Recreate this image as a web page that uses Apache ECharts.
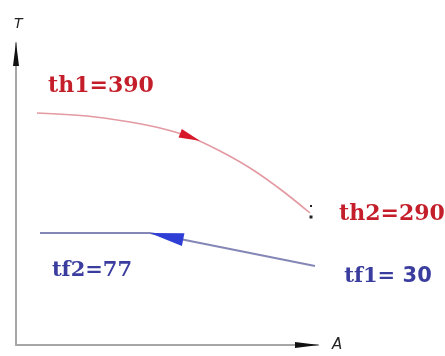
<!DOCTYPE html>
<html>
<head>
<meta charset="utf-8">
<script src="https://cdn.jsdelivr.net/npm/echarts@6/dist/echarts.min.js"></script>
<style>
  html, body { margin: 0; padding: 0; background: #fff; }
  #chart { width: 445px; height: 356px; }
</style>
</head>
<body>
<div id="chart"></div>
<script>
// Schematic temperature profile (T) over exchange area (A), arbitrary plot units
const hotA  = [21, 71, 114, 144, 174, 204, 234, 264, 294];
const hotT  = [232, 229, 223, 217, 208, 194, 177, 156, 132];
const coldA = [24, 134, 299];
const coldT = [112, 112, 79];

// Stream temperatures written at the ends of each curve
const hotNames  = ['th1', 'th2'];
const hotTemps  = [390, 290];
const coldNames = ['tf2', 'tf1'];
const coldTemps = [77, 30];

const axisMax = 302;

const RED = '#c41e2a';
const BLUE = '#3a3d9e';

const hotData = hotA.map((a, i) => [a, hotT[i]]);
const coldData = coldA.map((a, i) => [a, coldT[i]]);

// Direction arrows: one unit on each axis is one pixel, so angles in data space hold on screen
function angleDeg(p, q) {
  return Math.atan2(q[1] - p[1], q[0] - p[0]) * 180 / Math.PI;
}
const hotMid = 4;
const hotArrow = {
  value: hotData[hotMid],
  rot: angleDeg(hotData[hotMid - 1], hotData[hotMid + 1]) - 90
};
const cs = coldData[1], ce = coldData[2], tPos = 0.1;
const coldArrow = {
  value: [cs[0] + (ce[0] - cs[0]) * tPos, cs[1] + (ce[1] - cs[1]) * tPos],
  rot: angleDeg(ce, cs) - 90
};

const serifBold = { fontFamily: 'DejaVu Serif', fontWeight: 'bold', fontSize: 21 };

// End-of-curve labels, anchored on the first and last point of each stream
const endLabels = [
  { value: hotData[0], label: { formatter: hotNames[0] + '=' + hotTemps[0], offset: [64, -27], color: RED, ...serifBold, fontSize: 22 } },
  { value: hotData[hotData.length - 1], label: { formatter: hotNames[1] + '=' + hotTemps[1], offset: [82, 1], color: RED, ...serifBold, fontSize: 22 } },
  { value: coldData[0], label: { formatter: coldNames[0] + '=' + coldTemps[0], offset: [52, 38], color: BLUE, ...serifBold } },
  {
    value: coldData[coldData.length - 1],
    label: {
      offset: [73, 11],
      formatter: '{a|' + coldNames[1] + '=}{b| ' + coldTemps[1] + '}',
      rich: {
        a: { color: BLUE, ...serifBold },
        b: { color: BLUE, fontFamily: 'DejaVu Sans', fontWeight: 'bold', fontSize: 21 }
      }
    }
  }
];

const solid = { opacity: 1 };

const chart = echarts.init(document.getElementById('chart'), null, { renderer: 'canvas' });
chart.setOption({
  animation: false,
  backgroundColor: '#ffffff',
  grid: { left: 16, top: 43, right: 445 - 16 - axisMax, bottom: 356 - 43 - axisMax },
  xAxis: {
    type: 'value', min: 0, max: axisMax,
    name: 'A', nameLocation: 'end', nameGap: 14,
    nameTextStyle: { fontStyle: 'italic', fontSize: 15, color: '#222', fontFamily: 'DejaVu Sans', padding: [12, 0, 0, 0] },
    axisLine: { show: true, lineStyle: { color: '#a6a6a6', width: 2 } },
    axisTick: { show: false }, axisLabel: { show: false }, splitLine: { show: false }
  },
  yAxis: {
    type: 'value', min: 0, max: axisMax,
    name: 'T', nameLocation: 'end', nameGap: 12,
    nameTextStyle: { fontStyle: 'italic', fontSize: 14, color: '#222', fontFamily: 'DejaVu Sans', align: 'left', padding: [0, 0, 0, -2] },
    axisLine: { show: true, lineStyle: { color: '#a6a6a6', width: 2 } },
    axisTick: { show: false }, axisLabel: { show: false }, splitLine: { show: false }
  },
  series: [
    {
      name: 'hot',
      type: 'line',
      smooth: 0.35,
      showSymbol: false,
      lineStyle: { color: '#e39aa2', width: 1.6 },
      data: hotData,
      z: 3
    },
    {
      name: 'cold',
      type: 'line',
      showSymbol: false,
      lineStyle: { color: '#8486b6', width: 2 },
      data: coldData,
      z: 3
    },
    {
      name: 'labels',
      type: 'scatter',
      symbolSize: 0,
      clip: false,
      itemStyle: solid,
      label: { show: true, position: 'inside' },
      data: endLabels,
      z: 6
    },
    {
      name: 'hot arrow',
      type: 'scatter',
      symbol: 'triangle',
      symbolSize: [9, 21],
      symbolRotate: hotArrow.rot,
      itemStyle: { color: '#d8192a', opacity: 1 },
      data: [hotArrow.value],
      z: 4
    },
    {
      name: 'cold arrow',
      type: 'scatter',
      symbol: 'triangle',
      symbolSize: [13, 34],
      symbolRotate: coldArrow.rot,
      itemStyle: { color: '#2f3fd6', opacity: 1 },
      data: [coldArrow.value],
      z: 4
    },
    {
      name: 'end marks',
      type: 'scatter',
      symbol: 'rect',
      itemStyle: { color: '#222', opacity: 1 },
      data: [
        { value: hotData[hotData.length - 1], symbolSize: 3, symbolOffset: [1, 4] },
        { value: hotData[hotData.length - 1], symbolSize: 2, symbolOffset: [1, -7] }
      ],
      z: 4
    },
    {
      name: 'axis heads',
      type: 'scatter',
      symbol: 'triangle',
      clip: false,
      itemStyle: { color: '#111', opacity: 1 },
      data: [
        { value: [axisMax - 11, 0], symbolSize: [6, 24], symbolRotate: -90 },
        { value: [0, axisMax - 11], symbolSize: [6, 24], symbolRotate: 0 }
      ],
      z: 5
    }
  ]
});
</script>
</body>
</html>
